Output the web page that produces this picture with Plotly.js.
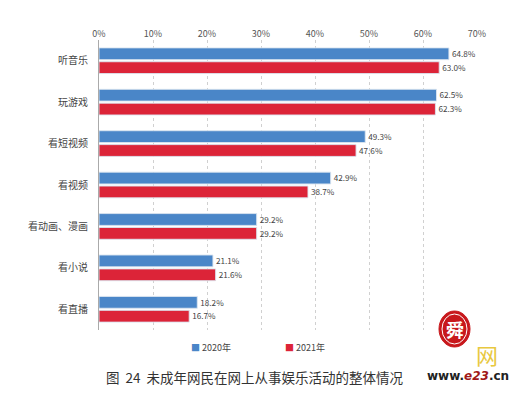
<!DOCTYPE html>
<html><head><meta charset="utf-8">
<script src="https://cdn.plot.ly/plotly-3.0.1.min.js"></script>
<style>body{margin:0;background:#fff}#c{width:532px;height:398px}</style>
</head><body><div id="c"></div>
<script>
const categories = ["听音乐","玩游戏","看短视频","看视频","看动画、漫画","看小说","看直播"];
const values2020 = [64.8, 62.5, 49.3, 42.9, 29.2, 21.1, 18.2];
const values2021 = [63.0, 62.3, 47.6, 38.7, 29.2, 21.6, 16.7];
const seriesNames = ["2020年","2021年"];
const seriesColors = ['#4a86c8', '#dc2438'];
const caption = "图  24  未成年网民在网上从事娱乐活动的整体情况";
const watermark = "www.e23.cn";

const fontCJK = '"Noto Sans CJK SC", "Noto Sans", sans-serif';
function mk(vals, name, color){
  return {type:'bar', orientation:'h', x:vals, y:categories, name:name,
    marker:{color:color, line:{color:'rgba(220,230,240,0.9)', width:1}},
    text:vals.map(v=>v.toFixed(1)+'%'), textposition:'outside', cliponaxis:false,
    textfont:{size:9, color:'#444', family:fontCJK}, hoverinfo:'skip', showlegend:false};
}
const data = [mk(values2020, seriesNames[0], seriesColors[0]), mk(values2021, seriesNames[1], seriesColors[1])];
// pixel helpers: plot area x 99..477, y 40..330
const px = x => (x-99)/378, py = y => (330-y)/290;
const wm = watermark.replace('e23', "<span style='color:#a01818'><i>e23</i></span>");
const layout = {
  width:532, height:398, margin:{l:99, r:55, t:40, b:68},
  paper_bgcolor:'#fff', plot_bgcolor:'#fff',
  font:{family:fontCJK, size:9, color:'#444'},
  barmode:'group', bargap:0.33, bargroupgap:0.15,
  xaxis:{side:'top', range:[0,70], dtick:10, ticksuffix:'%', showgrid:true,
    gridcolor:'#d0d0d0', griddash:'dot', zeroline:false, showline:false,
    tickfont:{size:9, color:'#555'}, ticks:''},
  yaxis:{autorange:'reversed', showline:true, linecolor:'#aaa', linewidth:1,
    showgrid:false, ticks:'', ticklabelstandoff:8, tickfont:{size:10, color:'#444'}},
  showlegend:false,
  shapes:[
    {type:'circle', xref:'paper', yref:'paper', x0:px(439), x1:px(470), y0:py(347), y1:py(311), fillcolor:'#c8181c', line:{color:'#c8181c', width:1}},
    {type:'circle', xref:'paper', yref:'paper', x0:px(442), x1:px(467), y0:py(344), y1:py(314), fillcolor:'rgba(0,0,0,0)', line:{color:'#ffffff', width:1}}
  ],
  annotations:[
    {text:"<span style='color:"+seriesColors[0]+"'>■</span> "+seriesNames[0], xref:'paper', yref:'paper', x:px(189), xanchor:'left', y:py(347), yanchor:'middle', showarrow:false, font:{size:9, color:'#444', family:fontCJK}},
    {text:"<span style='color:"+seriesColors[1]+"'>■</span> "+seriesNames[1], xref:'paper', yref:'paper', x:px(283), xanchor:'left', y:py(347), yanchor:'middle', showarrow:false, font:{size:9, color:'#444', family:fontCJK}},
    {text:'<b>舜</b>', xref:'paper', yref:'paper', x:px(454.5), y:py(329), xanchor:'center', yanchor:'middle', showarrow:false, font:{size:18, color:'#ffffff', family:fontCJK}},
    {text:'网', xref:'paper', yref:'paper', x:px(487), y:py(354), xanchor:'center', yanchor:'middle', showarrow:false, font:{size:22, color:'#e8c840', family:fontCJK}},
    {text:caption, xref:'paper', yref:'paper', x:px(104), xanchor:'left', y:py(377), yanchor:'middle', showarrow:false, font:{size:13.5, color:'#333', family:fontCJK}},
    {text:'<b>'+wm+'</b>', xref:'paper', yref:'paper', x:px(511), xanchor:'right', y:py(376), yanchor:'middle', showarrow:false, font:{size:12, color:'#222', family:'DejaVu Sans, sans-serif'}}
  ]
};
Plotly.newPlot('c', data, layout, {displayModeBar:false, staticPlot:true});
</script></body></html>
